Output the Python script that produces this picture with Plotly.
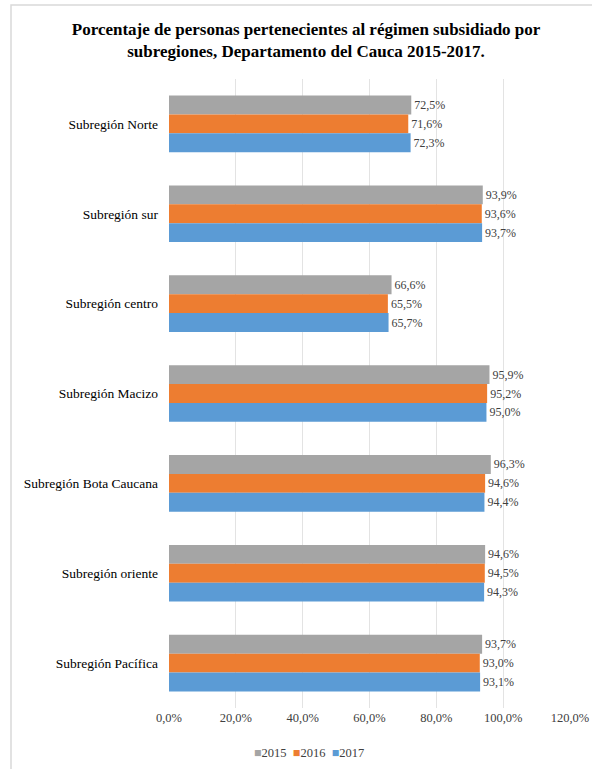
import plotly.graph_objects as go

subregiones = ["Subregión Norte", "Subregión sur", "Subregión centro", "Subregión Macizo",
               "Subregión Bota Caucana", "Subregión oriente", "Subregión Pacífica"]
anios = ["2015", "2016", "2017"]
v2015 = [72.5, 93.9, 66.6, 95.9, 96.3, 94.6, 93.7]
v2016 = [71.6, 93.6, 65.5, 95.2, 94.6, 94.5, 93.0]
v2017 = [72.3, 93.7, 65.7, 95.0, 94.4, 94.3, 93.1]
colores = ["#A5A5A5", "#ED7D31", "#5B9BD5"]
ticks = [0, 20, 40, 60, 80, 100, 120]

fuente = "Liberation Serif"


def etiqueta(v):
    return f"{v:.1f}%".replace(".", ",")


fig = go.Figure()
for anio, vals, color in zip(anios, [v2015, v2016, v2017], colores):
    fig.add_trace(go.Bar(
        y=subregiones, x=vals, name=anio, orientation="h",
        marker=dict(color=color, line=dict(width=0)),
        text=[etiqueta(v) for v in vals], textposition="outside",
        textfont=dict(family=fuente, size=12, color="#404040"),
        cliponaxis=False,
    ))

fig.update_layout(
    width=592, height=769,
    margin=dict(l=169, r=22, t=79, b=61),
    paper_bgcolor="white", plot_bgcolor="white",
    barmode="group", bargap=0.37, bargroupgap=0,
    font=dict(family=fuente, color="#404040"),
    title=dict(
        text="<b>Porcentaje de personas pertenecientes al régimen subsidiado por<br>subregiones, Departamento del Cauca 2015-2017.</b>",
        x=0.517, xanchor="center", y=0.955, yanchor="top",
        font=dict(family=fuente, size=17, color="black"),
    ),
    showlegend=False,
)
fig.update_xaxes(
    range=[0, 120], tickvals=ticks, ticktext=[etiqueta(t) for t in ticks],
    showgrid=True, gridcolor="#E3E3E3", gridwidth=1, zeroline=False,
    showline=False, ticks="", automargin=False,
    tickfont=dict(family=fuente, size=12.5, color="#404040"),
)
fig.update_yaxes(
    autorange="reversed", showgrid=False, showline=False, ticks="",
    ticklabelstandoff=10, automargin=False,
    tickfont=dict(family=fuente, size=13.5, color="black"),
)

# leyenda abajo como texto con cuadros de color
leyenda = "  ".join(f"<span style='color:{c}'>■</span>{a}" for a, c in zip(anios, colores))
fig.add_annotation(text=leyenda, xref="paper", yref="paper", x=0.349, y=-0.0715,
                   xanchor="center", yanchor="middle", showarrow=False,
                   font=dict(family=fuente, size=12.5, color="#404040"))

# borde del grafico
fig.add_shape(type="rect", xref="paper", yref="paper",
              x0=-0.394, x1=1.3, y0=-0.2, y1=1.1176,
              line=dict(color="#D9D9D9", width=1.5), layer="below")

fig.write_html("out.html", config={"displayModeBar": False},
               post_script="document.body.style.margin='0px';")
